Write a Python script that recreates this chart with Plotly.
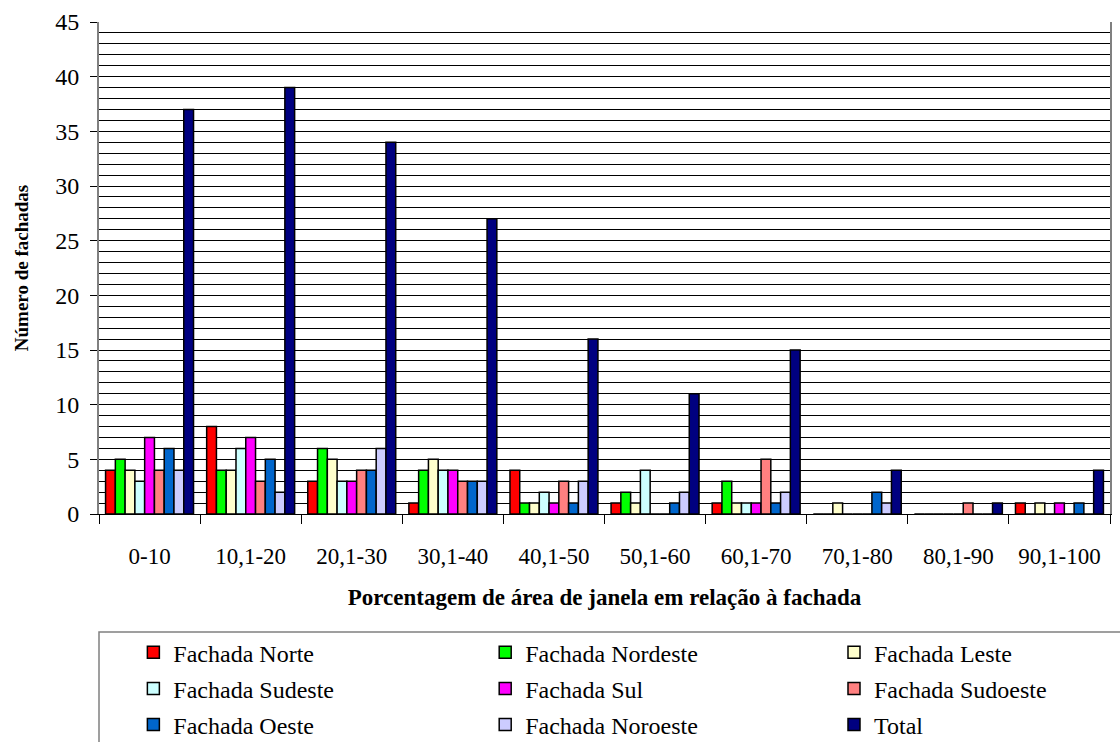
import plotly.graph_objects as go

categories = ["0-10", "10,1-20", "20,1-30", "30,1-40", "40,1-50",
              "50,1-60", "60,1-70", "70,1-80", "80,1-90", "90,1-100"]

norte     = [4, 8, 3, 1, 4, 1, 1, 0, 0, 1]
nordeste  = [5, 4, 6, 4, 1, 2, 3, 0, 0, 0]
leste     = [4, 4, 5, 5, 1, 1, 1, 1, 0, 1]
sudeste   = [3, 6, 3, 4, 2, 4, 1, 0, 0, 0]
sul       = [7, 7, 3, 4, 1, 0, 1, 0, 0, 1]
sudoeste  = [4, 3, 4, 3, 3, 0, 5, 0, 1, 0]
oeste     = [6, 5, 4, 3, 1, 1, 1, 2, 0, 1]
noroeste  = [4, 2, 6, 3, 3, 2, 2, 1, 0, 0]
total     = [37, 39, 34, 27, 16, 11, 15, 4, 1, 4]

# (name, values, colour, legend column)
series = [
    ("Fachada Norte", norte, "#FF0000", "legend"),
    ("Fachada Nordeste", nordeste, "#00FF00", "legend2"),
    ("Fachada Leste", leste, "#FFFFCC", "legend3"),
    ("Fachada Sudeste", sudeste, "#CCFFFF", "legend"),
    ("Fachada Sul", sul, "#FF00FF", "legend2"),
    ("Fachada Sudoeste", sudoeste, "#FF8080", "legend3"),
    ("Fachada Oeste", oeste, "#0066CC", "legend"),
    ("Fachada Noroeste", noroeste, "#CCCCFF", "legend2"),
    ("Total", total, "#000080", "legend3"),
]

FONT = "Times New Roman, Liberation Serif, serif"

fig = go.Figure()
for name, vals, color, leg in series:
    fig.add_trace(go.Bar(
        x=categories, y=vals, name=name, legend=leg, legendgroup=name,
        marker=dict(color=color, line=dict(color="#000000", width=1.5)),
    ))

legend_common = dict(
    orientation="v", y=-0.236, xanchor="left", yanchor="top",
    tracegroupgap=2, traceorder="grouped",
    font=dict(family=FONT, size=24, color="#000"),
    bgcolor="rgba(0,0,0,0)", itemclick=False, itemdoubleclick=False,
)

fig.update_layout(
    width=1120, height=742,
    margin=dict(l=99, r=10, t=22, b=228, autoexpand=False),
    paper_bgcolor="white", plot_bgcolor="white",
    barmode="group", bargap=0.13, bargroupgap=0,
    font=dict(family=FONT, size=22, color="#000"),
    legend=dict(**legend_common, x=0.034),
    legend2=dict(**legend_common, x=0.382),
    legend3=dict(**legend_common, x=0.727),
    xaxis=dict(
        type="category", showline=True, linecolor="#000", linewidth=1,
        ticks="outside", ticklen=9, tickcolor="#000", tickson="boundaries",
        ticklabelstandoff=21, tickfont=dict(family=FONT, size=23),
        title=dict(text="<b>Porcentagem de área de janela em relação à fachada</b>",
                   font=dict(family=FONT, size=23), standoff=21),
        showgrid=False,
    ),
    yaxis=dict(
        range=[0, 45], dtick=5, showline=True, linecolor="#808080", linewidth=2,
        mirror=True, ticks="outside", ticklen=7, tickcolor="#000",
        ticklabelstandoff=6, tickfont=dict(family=FONT, size=24),
        showgrid=True, gridcolor="#000", gridwidth=1,
        minor=dict(dtick=1, showgrid=True, gridcolor="#000", gridwidth=1),
        title=dict(text="<b>Número de fachadas</b>",
                   font=dict(family=FONT, size=19), standoff=22),
        zeroline=False,
    ),
    shapes=[dict(
        type="rect", xref="paper", yref="paper",
        x0=0, x1=1.05, y0=-0.240, y1=-0.6,
        line=dict(color="#808080", width=1.5), fillcolor="rgba(0,0,0,0)",
    )],
)

fig.write_html("out.html")
